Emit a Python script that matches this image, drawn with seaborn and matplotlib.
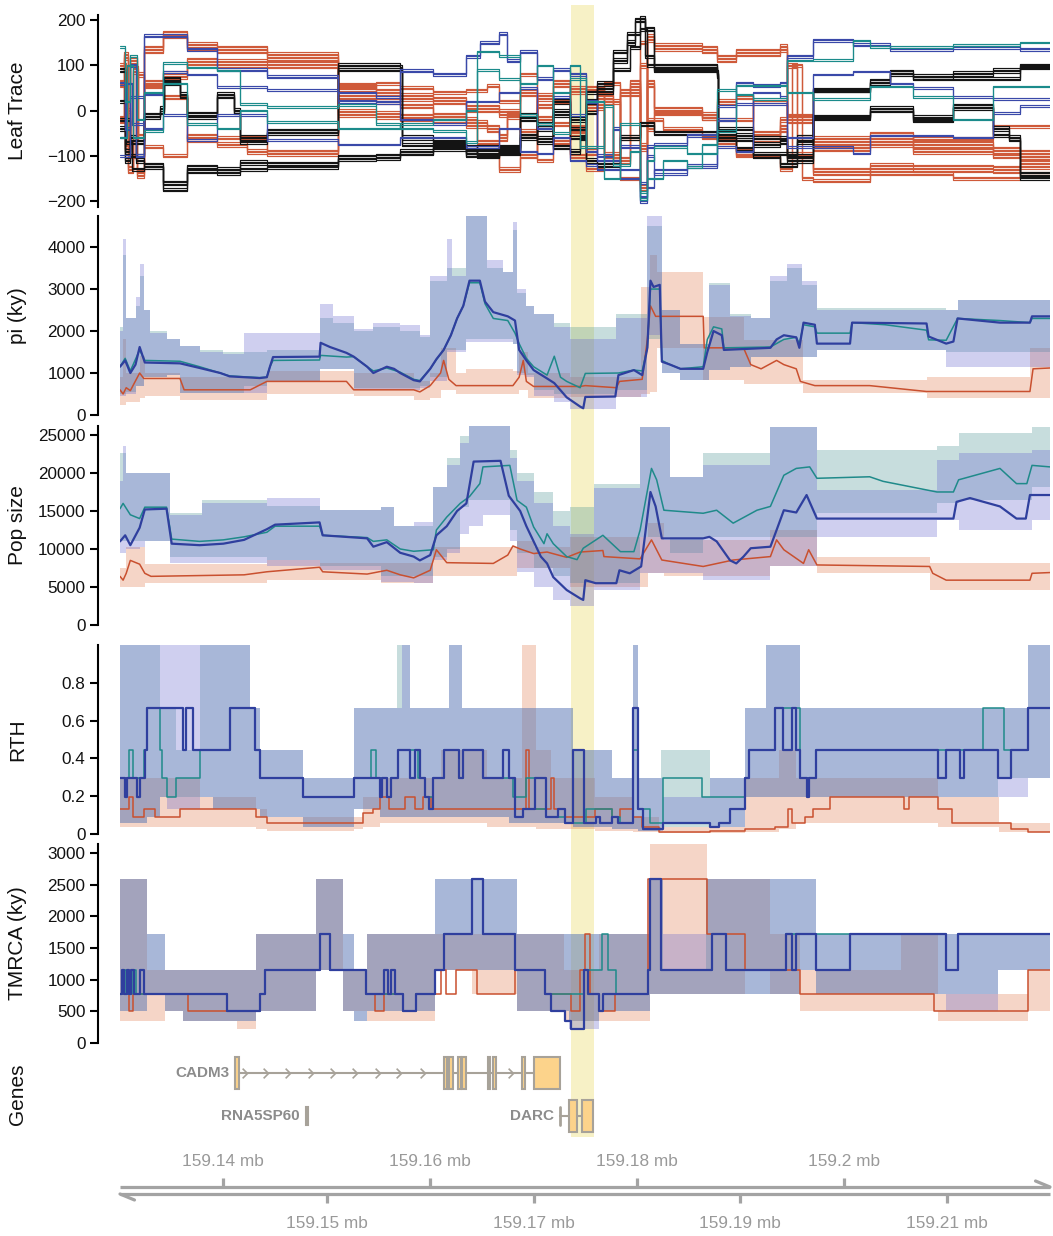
import numpy as np
import pandas as pd
import matplotlib
matplotlib.use("Agg")
import matplotlib.pyplot as plt
import matplotlib.transforms as mtrans
from matplotlib.patches import Rectangle
from matplotlib.path import Path
import seaborn as sns

# ------------------------------------------------------------------
# DATA  (positions are kb downstream of 159.13 mb)
# ------------------------------------------------------------------
X_END = 89.94
HIGHLIGHT = (43.6, 45.8)

LEAF_GROUP = ['orange', 'orange', 'orange', 'orange', 'orange',
              'black', 'black', 'black', 'black',
              'blue', 'blue', 'blue', 'teal', 'teal']
LEAF_N = [6, 6, 4, 3, 3, 4, 4, 3, 3, 3, 2, 2, 2, 2]
LEAF_PATHS = [
    [(0, -20), (0.4, 120), (0.8, -130), (1.3, 90), (1.7, -60), (2.3, 135), (4.2, 168), (6.45, 142), (9.35, 135),
     (14.2, 120), (21.1, 52), (24.8, 40), (27.1, 30), (30.3, 22), (33.5, 5), (36.7, -5), (38.7, 40), (40.3, -20),
     (41.9, 60), (43.5, -40), (45.1, 10), (46.8, -100), (48.4, 40), (50.3, -80), (51.0, 160), (51.6, 140),
     (56.3, 135), (57.7, 115), (59.6, 128), (63.8, 138), (64.5, -20), (67.0, -75), (72.5, -62), (76.7, -75),
     (84.4, -88), (87.0, -95)],
    [(0, 60), (0.5, -80), (1.0, 110), (1.6, -140), (2.3, 60), (4.2, 78), (6.45, 108), (9.35, 105), (14.2, 102),
     (21.1, -5), (24.8, -10), (27.1, -15), (30.3, -20), (33.5, -30), (35.5, -40), (36.7, -60), (37.4, -10),
     (38.7, -50), (40.3, 30), (41.9, -70), (43.5, 45), (45.1, -90), (46.1, 30), (47.7, -110), (49.3, 60),
     (50.3, -170), (51.0, 60), (51.6, 0), (56.3, -12), (57.7, -70), (59.6, -90), (61.2, -65), (63.8, -40),
     (64.5, -100), (67.0, -135), (72.5, -125), (76.7, -128), (84.4, -130), (87.0, -120)],
    [(0, 100), (0.6, 0), (1.0, -100), (1.5, 80), (2.3, 55), (4.2, 30), (6.45, -65), (9.35, -75), (12.3, -90),
     (14.2, -95), (21.1, 30), (24.8, 20), (27.1, 10), (30.3, -10), (33.5, -20), (34.5, -70), (36.7, -130),
     (38.7, -100), (40.3, 10), (41.9, -30), (43.5, -100), (45.1, 50), (46.8, 20), (48.4, -60), (50.3, 100),
     (51.0, -40), (51.6, -5), (56.3, -15), (57.7, 20), (59.6, 30), (61.2, -50), (63.8, -20), (64.5, 100),
     (65.5, -60), (67.0, -85), (72.5, -75), (76.7, -90), (84.4, -100), (87.0, -105)],
    [(2.3, -80), (4.2, -100), (6.45, -55), (9.35, -60), (14.2, -90), (21.1, 55), (24.8, 60), (27.1, 50),
     (30.3, 40), (33.5, 45), (35.5, 55), (36.7, 20), (38.7, 80), (40.3, -110), (41.9, 20), (43.5, -50),
     (45.1, -130), (46.8, 60), (48.4, -150), (50.3, 150), (51.0, -20), (52.5, -40), (56.3, -60), (59.6, -100),
     (63.8, -130), (65.0, 100), (66.0, -150), (67.0, -155), (72.5, -140), (80.6, -150), (87.0, -138)],
    [(57.7, -20), (61.2, 20), (64.5, -10), (67.0, -60), (72.5, -50), (76.7, -62), (84.4, -35)],
    [(0, 90), (0.5, -90), (1.0, -60), (1.5, -110), (2.3, -120), (4.2, -160), (6.45, -125), (9.35, -130),
     (11.6, -115), (14.2, -118), (21.1, -103), (24.8, -100), (27.1, -90), (30.3, -75), (33.5, -95), (34.5, -80),
     (36.7, -85), (38.7, -60), (40.3, -30), (41.9, -80), (43.5, -90), (44.5, -60), (45.1, -110), (46.1, -120),
     (48.4, -60), (50.3, -30), (51.6, -50), (57.7, -60), (59.6, -85), (61.2, -100), (63.8, -120), (65.5, -60),
     (67.0, -15), (72.5, 5), (76.7, -15), (80.6, 10), (84.4, -40), (86.0, -60), (87.0, -140)],
    [(0, -40), (0.5, -110), (1.0, -70), (2.3, -10), (3.9, 5), (4.3, 70), (5.8, 35), (6.45, -8), (9.35, 35),
     (11.0, 0), (11.6, -60), (14.2, -45), (21.1, 100), (27.1, 95), (27.3, -60), (30.3, -70), (33.5, -80),
     (34.5, -100), (36.7, -80), (38.7, -10), (40.3, -40), (41.9, 20), (43.5, -20), (45.1, 20), (46.1, 60),
     (47.7, 110), (49.0, 150), (49.8, 200), (50.8, 180), (51.6, 95), (57.7, 85), (57.8, -50), (59.6, -55),
     (61.2, -75), (63.8, -70), (64.5, -110), (67.0, 45), (72.5, 65), (74.5, 85), (76.7, 75), (80.6, 82),
     (84.4, 88), (87.0, 98)],
    [(0, 20), (0.6, -70), (1.2, -130), (2.3, -125), (4.2, -175), (6.45, -135), (9.35, -138), (11.6, -130),
     (14.2, -125), (21.1, -108), (24.8, -105), (27.1, -95), (30.3, -85), (33.5, -100), (36.7, -90), (38.7, -55),
     (40.3, -70), (41.9, -10), (43.5, -40), (45.1, 40), (46.1, 50), (47.7, 130), (49.0, 170), (50.3, 205),
     (50.8, 120), (51.6, 88), (57.7, 80), (57.8, -65), (61.2, -95), (63.8, -95), (65.5, -70), (67.0, -15),
     (72.5, 0), (76.7, -22), (80.6, 5), (84.4, -55), (86.0, -65), (87.0, -150)],
    [(0, -20), (1.0, -100), (2.3, -15), (3.9, -5), (4.3, 60), (5.8, 30), (6.45, -15), (9.35, 30), (11.0, -5),
     (11.6, -70), (14.2, -50), (21.1, 90), (27.1, 88), (27.3, -75), (33.5, -90), (36.7, -95), (38.7, -20),
     (40.3, -60), (41.9, 0), (43.5, -60), (45.1, -5), (46.1, 40), (47.7, 90), (49.3, 140), (50.3, 180),
     (51.0, 100), (51.6, 100), (57.7, 75), (57.8, -40), (61.2, -60), (64.5, -100), (67.0, 45), (72.5, 60),
     (74.5, 80), (76.7, 70), (87.0, 95)],
    [(0, 60), (0.5, -40), (1.0, 100), (1.5, -100), (2.3, 165), (6.45, 135), (9.35, 90), (14.2, 75), (21.1, 20),
     (24.8, 18), (27.1, 88), (30.3, 80), (33.5, 120), (34.8, 150), (36.7, 170), (37.4, 110), (38.7, 130),
     (40.3, 70), (41.9, 90), (43.5, 80), (45.1, 20), (46.1, -100), (47.7, -40), (48.4, -80), (50.3, -200),
     (51.0, -80), (51.6, -75), (54.8, -55), (57.7, -20), (59.6, 60), (61.2, 55), (63.8, 60), (64.5, 120),
     (67.0, 155), (70.9, 145), (74.5, 135), (80.6, 140), (87.0, 135)],
    [(0, -60), (0.6, 60), (1.2, -30), (2.3, 35), (4.2, 85), (6.45, 80), (9.35, 52), (14.2, 45), (21.1, 40),
     (24.8, 30), (27.1, -20), (30.3, -30), (33.5, 20), (36.7, 40), (38.7, 50), (40.3, -40), (41.9, 30),
     (43.5, -10), (45.1, -90), (46.1, -110), (48.4, -130), (50.3, -190), (51.0, -100), (51.6, -140),
     (54.8, -120), (57.7, -80), (59.6, -90), (61.2, 40), (63.8, 30), (64.5, -80), (67.0, -80), (70.9, -95),
     (72.5, -55), (80.6, -60), (84.4, -5), (87.0, 10)],
    [(0, -100), (1.0, 30), (2.3, -40), (4.2, -10), (6.45, -65), (9.35, -10), (14.2, -65), (21.1, -75),
     (27.1, -60), (33.5, -80), (36.7, -40), (38.7, -90), (40.3, -95), (41.9, -60), (43.5, -110), (45.1, -120),
     (46.1, -130), (48.4, -150), (50.3, -160), (51.0, -170), (51.6, -130), (54.8, -125), (57.7, 10),
     (59.6, 15), (64.5, -60), (67.0, 80), (70.9, 86), (74.5, 60), (76.7, 50), (80.6, 30), (84.4, 25)],
    [(0, 140), (0.5, 20), (1.0, 120), (1.6, -20), (2.3, 40), (4.2, 105), (6.45, 95), (9.35, 88), (11.6, 15),
     (14.2, 8), (21.1, 12), (24.8, -30), (27.1, -40), (30.3, -45), (33.5, -70), (34.5, 130), (36.7, 120),
     (38.7, 60), (40.3, 100), (41.9, -50), (43.5, 70), (45.1, -80), (46.8, 10), (47.7, -120), (49.3, -90),
     (50.3, -195), (51.0, -150), (52.5, -110), (54.8, -125), (56.3, -75), (57.7, 45), (59.6, 35), (61.2, 25),
     (64.5, 110), (67.0, 112), (70.9, 155), (72.5, 140), (80.6, 145), (87.0, 150)],
    [(0, -60), (0.7, 100), (1.3, -60), (2.3, -45), (4.2, 60), (6.45, -30), (9.35, -40), (11.6, 0), (14.2, -25),
     (21.1, -40), (27.1, -30), (30.3, -20), (33.5, 0), (34.5, 90), (36.7, 70), (38.7, -10), (40.3, -30),
     (41.9, 40), (43.5, 100), (44.5, -80), (45.1, 20), (46.8, -150), (48.4, -30), (50.3, -180), (51.0, -110),
     (51.6, -80), (54.8, -95), (57.7, -45), (59.6, 55), (64.5, 40), (67.0, 25), (72.5, 53), (76.7, 30),
     (80.6, -20), (84.4, 53)],
]

# ---- pi (ky): mean lines ----
PI_BLUE = [(0, 1150), (0.5, 1300), (1.0, 1000), (1.5, 1200), (1.9, 1620), (2.4, 1250), (5.8, 1230), (7.7, 1120),
           (9.7, 1000), (10.6, 920), (13.5, 880), (14.2, 900), (14.5, 1150), (14.8, 1380), (19.3, 1390),
           (19.4, 1720), (20.3, 1620), (21.9, 1480), (22.6, 1390), (23.9, 1150), (24.5, 1000), (25.8, 1150),
           (26.5, 1100), (27.1, 1000), (28.4, 830), (29.0, 800), (30.0, 1100), (30.6, 1330), (31.3, 1550),
           (32.0, 1900), (32.6, 2300), (33.2, 2600), (33.8, 3200), (34.8, 3200), (35.3, 2700), (36.1, 2450),
           (37.5, 2350), (38.2, 2250), (38.6, 1550), (39.3, 1300), (40.0, 1070), (41.3, 870), (42.0, 760),
           (43.2, 420), (44.5, 200), (44.8, 160), (45.0, 430), (47.9, 440), (48.2, 950), (49.7, 1070),
           (50.5, 950), (51.0, 1600), (51.3, 3200), (51.6, 3050), (52.2, 3100), (52.4, 1270), (53.2, 1200),
           (54.2, 1100), (56.4, 1100), (56.8, 1500), (57.4, 2000), (58.2, 1900), (58.4, 1550), (62.9, 1600),
           (63.5, 1800), (64.2, 1900), (65.4, 1850), (65.7, 1600), (66.1, 2200), (67.2, 2150), (67.4, 1700),
           (70.6, 1700), (70.8, 2200), (78.0, 2180), (78.2, 1870), (79.9, 1700), (80.6, 1750), (81.0, 2300),
           (85.1, 2200), (88.0, 2200), (88.2, 2350), (89.94, 2350)]
PI_TEAL = [(0, 1150), (0.5, 1350), (1.0, 1050), (1.9, 1550), (2.4, 1300), (5.8, 1280), (7.7, 1150), (9.7, 1000),
           (10.6, 930), (13.5, 890), (14.2, 900), (14.5, 1150), (14.8, 1300), (19.3, 1310), (19.4, 1420),
           (21.9, 1380), (22.6, 1390), (23.9, 1150), (24.5, 1050), (25.8, 1120), (27.1, 1020), (28.4, 850),
           (29.0, 820), (30.0, 1100), (30.6, 1320), (31.3, 1550), (32.0, 1900), (32.6, 2300), (33.2, 2600),
           (33.8, 3150), (34.8, 3150), (35.3, 2650), (36.1, 2300), (37.5, 2250), (38.2, 1950), (38.6, 1700),
           (39.3, 1350), (40.0, 1150), (41.3, 950), (42.0, 1400), (42.6, 900), (43.2, 800), (44.5, 650),
           (45.0, 990), (48.2, 1000), (49.7, 1070), (50.5, 1050), (51.0, 1600), (51.3, 3000), (52.2, 3000),
           (52.4, 1300), (53.2, 1200), (54.2, 1100), (56.4, 1150), (56.8, 1800), (57.4, 2100), (58.2, 2050),
           (58.4, 1600), (62.9, 1620), (64.2, 1800), (65.4, 1850), (65.7, 1700), (66.1, 2150), (67.2, 2100),
           (67.4, 1950), (70.6, 1950), (70.8, 2200), (74.0, 2150), (78.0, 2020), (78.2, 1790), (79.9, 1780),
           (81.0, 2300), (85.1, 2250), (88.0, 2200), (88.2, 2300), (89.94, 2300)]
PI_ORANGE = [(0, 600), (0.3, 500), (0.6, 650), (1.0, 580), (1.9, 1000), (2.3, 870), (5.8, 870), (6.2, 600),
             (12.6, 600), (14.2, 800), (21.9, 800), (22.6, 600), (28.4, 600), (29.0, 550), (30.0, 700),
             (31.0, 1000), (31.3, 1300), (31.8, 850), (32.5, 700), (38.0, 700), (38.6, 900), (39.0, 1300),
             (39.3, 800), (40.0, 680), (44.5, 680), (45.0, 700), (48.0, 650), (48.3, 800), (50.5, 850),
             (51.0, 1800), (51.3, 2600), (51.8, 2350), (56.4, 2350), (56.5, 1600), (60.3, 1600), (61.0, 1200),
             (62.0, 1100), (63.5, 1300), (64.2, 1200), (65.4, 1100), (65.8, 800), (67.2, 700), (72.5, 700),
             (78.0, 560), (88.0, 560), (88.3, 1100), (89.94, 1120)]
# ---- pi bands: (x, low, high) ----
PI_BLUE_BAND = [(0, 450, 2000), (0.3, 450, 4200), (0.6, 500, 2300), (1.5, 700, 2800), (1.9, 700, 3600),
                (2.3, 900, 2500), (2.9, 900, 1950), (4.5, 950, 1800), (5.8, 520, 1650), (7.7, 520, 1500),
                (10.0, 520, 1450), (12.0, 520, 1950), (14.2, 800, 1950), (19.3, 1100, 2650), (20.6, 1100, 2350),
                (22.6, 600, 2050), (24.5, 600, 2200), (27.1, 600, 2150), (29.0, 650, 1900), (30.0, 800, 3300),
                (31.6, 1500, 4200), (32.1, 1500, 3300), (33.5, 1750, 4740), (35.5, 1750, 3700),
                (37.0, 1750, 3400), (38.0, 1700, 4600), (38.4, 950, 3000), (39.3, 900, 2600), (40.0, 450, 2400),
                (42.0, 300, 2100), (43.5, 150, 1800), (48.0, 440, 2300), (51.0, 1900, 4740), (52.4, 1000, 2500),
                (54.2, 830, 1700), (57.0, 1070, 3100), (59.0, 1150, 2350), (61.0, 1390, 2300), (62.9, 1390, 3300),
                (64.5, 1390, 3600), (66.0, 1390, 3200), (67.4, 1550, 2500), (79.9, 1150, 2500),
                (81.0, 1150, 2750)]
PI_TEAL_BAND = [(0, 500, 2100), (0.3, 500, 3800), (0.6, 550, 2300), (1.5, 700, 2600), (1.9, 700, 3300),
                (2.3, 900, 2500), (2.9, 900, 2000), (4.5, 950, 1800), (5.8, 520, 1650), (7.7, 520, 1550),
                (10.0, 520, 1500), (12.0, 700, 1500), (14.2, 800, 1550), (19.3, 1100, 2300), (20.6, 1100, 2200),
                (22.6, 650, 2000), (24.5, 650, 2100), (27.1, 650, 2000), (29.0, 700, 1850), (30.0, 900, 3200),
                (31.6, 1550, 3500), (33.5, 1800, 4740), (35.5, 1800, 3500), (37.0, 1800, 3400),
                (38.0, 1700, 4400), (38.4, 1000, 2900), (39.3, 950, 2600), (40.0, 600, 2400), (42.0, 500, 2200),
                (43.5, 500, 2100), (48.0, 600, 2400), (51.0, 1800, 4500), (52.4, 1000, 2500), (54.2, 830, 1700),
                (57.0, 1070, 3150), (59.0, 1150, 2400), (61.0, 1390, 2300), (62.9, 1390, 3200),
                (64.5, 1390, 3500), (66.0, 1390, 3100), (67.4, 1550, 2550), (79.9, 1500, 2500),
                (81.0, 1500, 2750)]
PI_ORANGE_BAND = [(0, 250, 900), (0.3, 250, 1800), (0.6, 300, 1000), (1.9, 400, 1400), (2.4, 450, 1000),
                  (5.8, 350, 900), (12.6, 350, 900), (14.2, 500, 1050), (22.6, 450, 1000), (28.4, 350, 800),
                  (30.0, 400, 1000), (31.0, 600, 1600), (32.5, 500, 1000), (33.5, 500, 1100), (38.0, 500, 1050),
                  (38.6, 600, 1500), (39.5, 400, 1000), (43.5, 437, 910), (50.4, 500, 3050), (51.3, 550, 3800),
                  (51.9, 1590, 3410), (56.4, 830, 2340), (60.3, 750, 1790), (66.1, 516, 830), (78.0, 400, 910),
                  (88.0, 400, 1590)]

# ---- Pop size ----
POP_BLUE = [(0, 11000), (0.5, 11800), (1.0, 10500), (1.9, 12800), (2.4, 15200), (4.5, 15300), (5.0, 10700),
            (7.7, 10500), (10.0, 10700), (12.0, 11200), (14.2, 12600), (15.0, 13200), (19.3, 13500),
            (19.6, 11800), (23.9, 11400), (24.5, 10300), (25.8, 10900), (27.1, 9500), (28.4, 9000), (29.0, 8500),
            (30.0, 9200), (30.6, 11800), (31.6, 13000), (32.6, 15000), (33.5, 16000), (34.2, 21500),
            (36.8, 21600), (37.6, 17000), (38.7, 15000), (39.3, 13000), (40.0, 11000), (40.7, 9000),
            (41.3, 8100), (41.9, 6300), (43.2, 4600), (44.5, 3500), (44.8, 3300), (45.0, 5900), (46.0, 5500),
            (48.0, 5500), (48.3, 7200), (49.3, 6800), (50.4, 7700), (50.6, 9900), (51.3, 17500), (51.8, 15600),
            (52.4, 11400), (56.4, 11400), (57.0, 11600), (57.7, 11000), (59.0, 8500), (59.6, 8100), (60.3, 9000),
            (61.0, 10100), (62.9, 10300), (63.5, 12500), (64.2, 15100), (65.4, 14800), (66.4, 17100),
            (67.4, 14000), (80.6, 14000), (80.9, 16200), (82.2, 16700), (85.1, 15600), (86.7, 14000),
            (87.6, 14000), (88.0, 17100), (89.94, 17100)]
POP_TEAL = [(0, 15300), (0.3, 16000), (1.0, 14500), (1.9, 14000), (2.4, 15500), (4.5, 15500), (5.0, 11300),
            (7.7, 11000), (10.0, 11200), (12.0, 11600), (14.2, 12200), (15.0, 13000), (19.3, 13000),
            (19.6, 11800), (23.9, 11500), (24.5, 11000), (25.8, 11200), (27.1, 10000), (28.4, 9700),
            (30.3, 9900), (30.6, 12500), (31.6, 14200), (32.9, 16000), (33.8, 16900), (34.8, 18600),
            (35.1, 20800), (37.7, 21000), (38.4, 16400), (39.3, 15500), (40.0, 12900), (41.0, 10700),
            (41.3, 12000), (41.9, 10700), (43.2, 9000), (44.2, 8600), (44.8, 10100), (46.7, 11800), (48.4, 9650),
            (49.7, 9650), (50.3, 12500), (51.4, 20600), (51.9, 19100), (52.6, 15100), (56.4, 14700),
            (57.7, 15100), (59.3, 13400), (61.6, 15100), (62.9, 15600), (64.2, 19700), (65.4, 20600),
            (66.7, 20800), (67.4, 19300), (72.5, 19500), (73.8, 18900), (79.0, 17500), (80.6, 17500),
            (81.1, 19100), (85.1, 20600), (86.7, 18600), (87.7, 18600), (88.2, 21000), (89.94, 20800)]
POP_ORANGE = [(0, 6400), (0.3, 5900), (0.6, 6800), (1.0, 8500), (1.9, 8000), (2.4, 6800), (3.0, 6400),
              (12.0, 6600), (14.2, 7000), (19.3, 7600), (19.6, 7000), (23.9, 6700), (25.8, 7200), (27.1, 6600),
              (28.4, 6200), (30.0, 7200), (30.6, 9900), (31.6, 8200), (36.1, 8100), (37.5, 9200), (38.0, 10400),
              (38.7, 10000), (40.0, 9400), (41.3, 9600), (43.2, 8900), (44.5, 9600), (46.7, 9800), (46.8, 9000),
              (50.3, 8700), (51.4, 11200), (52.4, 8550), (56.4, 7700), (59.3, 8550), (62.9, 9000), (63.5, 11200),
              (64.2, 9900), (66.1, 8100), (66.6, 9900), (67.4, 7900), (78.3, 7700), (78.6, 6800), (79.9, 5900),
              (88.0, 5900), (88.2, 6800), (89.94, 6900)]
POP_BLUE_BAND = [(0, 9500, 19000), (0.3, 9500, 23500), (0.6, 10000, 20000), (1.9, 10300, 20000),
                 (2.4, 11000, 20000), (4.8, 8100, 14500), (7.9, 8100, 16000), (14.2, 7800, 16700),
                 (19.3, 7200, 15100), (25.2, 5700, 15500), (26.5, 5700, 13000), (28.4, 5500, 13500),
                 (30.3, 8500, 18200), (31.6, 9500, 21000), (32.9, 12000, 24000), (33.8, 13000, 26200),
                 (35.1, 14500, 26200), (37.7, 11000, 22000), (38.4, 7000, 19000), (40.0, 5000, 16000),
                 (41.9, 3300, 13000), (43.5, 2500, 12000), (45.8, 4600, 18000), (50.3, 6800, 26000),
                 (53.2, 6800, 19500), (56.4, 5900, 21000), (62.9, 7700, 26000), (67.4, 11600, 17800),
                 (79.0, 13800, 21700), (81.1, 12500, 22600), (88.2, 13800, 23000)]
POP_TEAL_BAND = [(0, 11000, 22600), (0.6, 11000, 20000), (4.8, 9000, 14700), (7.9, 9000, 16400),
                 (14.2, 8500, 15600), (19.3, 7700, 15100), (25.2, 6500, 15500), (26.5, 6500, 13000),
                 (30.3, 9000, 18200), (31.6, 10000, 22000), (32.9, 15500, 24800), (33.8, 16500, 26200),
                 (37.7, 12500, 23000), (38.4, 9500, 20000), (40.0, 7500, 17500), (41.9, 6500, 15000),
                 (43.5, 5500, 15500), (45.8, 5500, 18500), (50.3, 11600, 26000), (53.2, 9500, 19500),
                 (56.4, 11600, 22600), (62.9, 11600, 26000), (67.4, 14700, 23000), (79.0, 16000, 23500),
                 (81.1, 16400, 25200), (88.2, 18200, 26000)]
POP_ORANGE_BAND = [(0, 5000, 7500), (0.6, 5000, 10300), (2.4, 5500, 8000), (14.2, 5900, 8500),
                   (19.3, 5900, 8100), (25.2, 5500, 8100), (30.3, 6500, 10300), (38.4, 7500, 11000),
                   (40.0, 7500, 10300), (43.5, 5000, 11600), (51.1, 6800, 13400), (52.6, 6400, 11200),
                   (62.9, 7700, 12500), (67.4, 6800, 9000), (78.3, 4600, 8100)]

# ---- RTH (step values) ----
RTH_BLUE = [(0, 0.296), (0.5, 0.198), (0.7, 0.296), (1.6, 0.198), (1.9, 0.296), (2.4, 0.444), (2.6, 0.667),
            (6.1, 0.444), (6.4, 0.667), (7.1, 0.444), (10.6, 0.667), (13.1, 0.444), (13.5, 0.296), (17.7, 0.198),
            (22.6, 0.296), (25.1, 0.198), (25.3, 0.296), (25.8, 0.198), (26.2, 0.296), (26.9, 0.444),
            (28.0, 0.296), (28.5, 0.444), (29.0, 0.296), (29.5, 0.198), (29.9, 0.132), (30.3, 0.296),
            (31.3, 0.444), (32.8, 0.296), (33.2, 0.444), (35.1, 0.296), (37.0, 0.444), (37.6, 0.296),
            (38.2, 0.088), (39.0, 0.132), (40.1, 0.296), (41.2, 0.088), (42.4, 0.132), (43.0, 0.059),
            (43.8, 0.444), (44.9, 0.059), (46.0, 0.088), (46.4, 0.059), (47.6, 0.088), (48.2, 0.059),
            (49.6, 0.667), (50.1, 0.132), (50.6, 0.026), (52.5, 0.059), (57.1, 0.039), (57.9, 0.059),
            (59.0, 0.132), (60.4, 0.296), (60.8, 0.444), (63.3, 0.667), (64.1, 0.444), (65.0, 0.667),
            (65.4, 0.444), (65.8, 0.296), (66.4, 0.198), (66.6, 0.296), (67.3, 0.444), (79.1, 0.296),
            (79.9, 0.444), (81.2, 0.296), (81.6, 0.444), (84.9, 0.296), (86.2, 0.444), (87.8, 0.667)]
RTH_TEAL = [(0, 0.296), (0.9, 0.444), (1.3, 0.296), (2.3, 0.444), (2.6, 0.667), (3.9, 0.444), (4.1, 0.296),
            (4.5, 0.198), (5.4, 0.296), (7.7, 0.444), (10.6, 0.667), (13.1, 0.444), (13.5, 0.296), (17.7, 0.198),
            (22.6, 0.296), (24.3, 0.444), (24.8, 0.296), (25.8, 0.198), (26.2, 0.296), (26.9, 0.444),
            (28.8, 0.296), (29.5, 0.198), (30.3, 0.296), (31.3, 0.444), (32.8, 0.296), (33.2, 0.444),
            (35.1, 0.296), (38.0, 0.198), (39.3, 0.296), (40.1, 0.132), (41.2, 0.088), (43.0, 0.059),
            (45.1, 0.132), (47.6, 0.088), (48.4, 0.059), (49.6, 0.444), (50.1, 0.132), (51.3, 0.059),
            (52.5, 0.296), (56.3, 0.198), (60.4, 0.296), (60.8, 0.444), (63.3, 0.667), (65.8, 0.296),
            (67.3, 0.444), (83.5, 0.667), (85.5, 0.444), (87.8, 0.667)]
RTH_ORANGE = [(0, 0.132), (0.9, 0.198), (1.3, 0.088), (2.3, 0.132), (3.4, 0.088), (5.8, 0.132), (13.2, 0.088),
              (14.2, 0.059), (23.5, 0.11), (24.5, 0.132), (25.1, 0.198), (26.0, 0.132), (27.6, 0.198),
              (28.5, 0.132), (29.3, 0.198), (30.1, 0.132), (39.3, 0.444), (39.6, 0.132), (41.7, 0.296),
              (42.0, 0.132), (43.0, 0.088), (45.9, 0.132), (47.6, 0.088), (48.4, 0.132), (49.6, 0.088),
              (50.5, 0.039), (52.1, 0.01), (57.1, 0.017), (60.4, 0.026), (63.3, 0.039), (64.6, 0.132),
              (65.0, 0.059), (66.2, 0.088), (67.0, 0.132), (68.7, 0.198), (75.8, 0.132), (76.3, 0.198),
              (79.1, 0.132), (80.5, 0.059), (86.2, 0.026), (87.8, 0.01)]
RTH_BLUE_BAND = [(0, 0.059, 1.0), (2.6, 0.088, 1.0), (3.9, 0.198, 1.0), (4.5, 0.132, 1.0), (7.7, 0.198, 1.0),
                 (9.0, 0.132, 1.0), (12.6, 0.132, 0.667), (13.5, 0.088, 0.444), (17.7, 0.039, 0.296),
                 (22.6, 0.132, 0.667), (25.1, 0.088, 0.667), (27.3, 0.088, 1.0), (28.0, 0.088, 0.667),
                 (31.8, 0.088, 1.0), (33.1, 0.088, 0.667), (37.6, 0.059, 0.667), (43.8, 0.039, 0.444),
                 (47.6, 0.026, 0.296), (49.6, 0.026, 1.0), (50.1, 0.017, 0.296), (52.5, 0.059, 0.198),
                 (57.1, 0.039, 0.296), (60.4, 0.198, 0.667), (62.5, 0.198, 1.0), (65.8, 0.198, 0.667),
                 (87.8, 0.296, 1.0)]
RTH_TEAL_BAND = [(0, 0.059, 1.0), (2.6, 0.088, 1.0), (3.9, 0.198, 0.667), (5.4, 0.198, 0.444),
                 (7.7, 0.198, 1.0), (9.0, 0.132, 1.0), (12.6, 0.132, 0.667), (13.5, 0.088, 0.444),
                 (17.7, 0.039, 0.296), (22.6, 0.132, 0.667), (25.1, 0.088, 0.667), (26.8, 0.088, 1.0),
                 (28.0, 0.088, 0.667), (31.8, 0.088, 1.0), (33.1, 0.088, 0.667), (37.6, 0.059, 0.667),
                 (43.8, 0.039, 0.444), (47.6, 0.026, 0.296), (49.6, 0.026, 1.0), (50.1, 0.017, 0.296),
                 (52.3, 0.039, 0.444), (57.1, 0.039, 0.296), (60.4, 0.198, 0.667), (62.5, 0.198, 1.0),
                 (65.8, 0.198, 0.667), (84.9, 0.296, 0.667), (87.8, 0.296, 1.0)]
RTH_ORANGE_BAND = [(0, 0.039, 0.296), (2.3, 0.039, 0.296), (7.7, 0.039, 0.198), (13.2, 0.026, 0.132),
                   (14.2, 0.017, 0.088), (22.6, 0.026, 0.088), (23.5, 0.039, 0.198), (25.1, 0.059, 0.296),
                   (31.0, 0.059, 0.444), (35.5, 0.039, 0.296), (38.9, 0.039, 1.0), (40.2, 0.026, 0.444),
                   (41.7, 0.026, 0.296), (45.9, 0.017, 0.198), (49.6, 0.01, 0.088), (52.1, 0.005, 0.039),
                   (60.4, 0.01, 0.296), (63.7, 0.026, 0.444), (65.4, 0.059, 0.296), (79.1, 0.039, 0.198),
                   (85.0, 0.01, 0.059)]

# ---- TMRCA (ky) ----
TM_BLUE = [(0, 766), (0.2, 1148), (0.4, 766), (0.7, 1148), (0.9, 766), (1.1, 1148), (1.4, 766), (1.9, 1148),
           (2.3, 766), (10.3, 510), (13.5, 766), (14.0, 1148), (19.3, 1722), (20.3, 1148), (23.8, 766),
           (25.5, 1148), (25.9, 766), (26.2, 1148), (26.6, 766), (27.4, 510), (28.6, 766), (30.5, 1148),
           (31.3, 1722), (34.0, 2583), (35.1, 1722), (38.2, 1148), (41.1, 766), (41.7, 510), (43.0, 340),
           (43.6, 227), (44.9, 1148), (45.3, 766), (46.3, 510), (46.7, 766), (51.1, 1148), (51.3, 2583),
           (52.3, 1148), (57.3, 1722), (58.6, 1148), (64.4, 1722), (65.0, 1148), (65.4, 1722), (67.3, 1148),
           (70.6, 1722), (79.9, 1148), (81.0, 1722)]
TM_TEAL = [(0, 766), (0.3, 1148), (0.6, 766), (1.2, 1148), (1.5, 766), (2.3, 766), (10.3, 510), (13.5, 766),
           (14.0, 1148), (19.3, 1722), (20.3, 1148), (23.8, 766), (27.4, 510), (28.6, 766), (30.5, 1148),
           (31.3, 1722), (34.0, 2583), (35.1, 1722), (38.2, 1148), (41.1, 766), (43.0, 766), (44.9, 1148),
           (46.6, 1722), (47.2, 1148), (48.0, 766), (51.1, 1148), (51.3, 2583), (52.3, 1148), (57.3, 1722),
           (58.6, 1148), (64.4, 1722), (67.3, 1722), (70.6, 1722), (79.9, 1148), (81.0, 1722)]
TM_ORANGE = [(0, 766), (0.9, 510), (1.3, 766), (6.5, 766), (6.6, 510), (10.3, 510), (13.5, 766), (14.0, 1148),
             (19.3, 1722), (20.3, 1148), (23.8, 766), (24.7, 510), (25.5, 766), (27.4, 510), (28.6, 766),
             (31.0, 1148), (31.5, 766), (32.5, 1148), (34.5, 766), (38.2, 1148), (41.1, 766), (43.6, 510),
             (44.5, 1148), (45.0, 1722), (45.5, 766), (46.3, 510), (47.9, 766), (51.1, 2583), (56.8, 1722),
             (60.4, 1148), (65.8, 766), (78.7, 510), (87.8, 1148)]
TM_BLUE_BAND = [(0, 510, 2583), (2.6, 766, 1722), (4.4, 510, 1148), (6.1, 340, 1148), (13.2, 510, 1722),
                (19.0, 1148, 2583), (21.6, 510, 1722), (22.6, 340, 1148), (23.9, 510, 1722), (30.5, 1148, 2583),
                (38.4, 510, 1722), (43.4, 227, 1722), (46.3, 510, 1722), (51.3, 766, 2583), (52.5, 766, 1722),
                (56.7, 766, 2583), (65.8, 1148, 2583), (67.3, 766, 1722), (79.9, 510, 1722),
                (84.9, 1148, 1722)]
TM_TEAL_BAND = [(0, 510, 2583), (2.6, 766, 1722), (4.4, 510, 1148), (6.1, 340, 1148), (13.2, 510, 1722),
                (19.0, 1148, 2583), (21.6, 510, 1722), (22.6, 340, 1148), (23.9, 510, 1722), (30.5, 1148, 2583),
                (38.4, 510, 1722), (43.4, 340, 1722), (46.3, 510, 1722), (51.3, 766, 2583), (52.5, 766, 1148),
                (56.7, 766, 2583), (65.8, 1148, 2583), (67.3, 766, 1722), (79.9, 766, 1722),
                (84.9, 1148, 1722)]
TM_ORANGE_BAND = [(0, 340, 2583), (2.6, 340, 1148), (4.4, 510, 1148), (6.1, 340, 1148), (11.3, 227, 1148),
                  (13.2, 510, 1722), (19.0, 1148, 2583), (21.6, 510, 1148), (23.9, 340, 1722),
                  (30.5, 1148, 1722), (34.0, 766, 1722), (38.4, 510, 1722), (42.9, 340, 1148),
                  (46.3, 340, 1722), (51.3, 766, 3142), (56.8, 766, 2583), (60.4, 1148, 2583),
                  (62.9, 766, 1722), (65.8, 510, 1148), (75.5, 510, 1722), (79.1, 340, 766), (87.8, 510, 1148)]

# ---- Genes ----
GENE_NAMES = ['CADM3', 'RNA5SP60', 'DARC']
GENE_ROW = [1, 0, 0]
GENE_SPAN = [(11.1, 42.55), (17.95, 18.2), (42.55, 45.7)]
GENE_EXONS = [
    [(11.1, 11.5), (31.3, 31.6), (31.8, 32.2), (32.7, 33.0), (33.1, 33.5), (35.6, 35.8), (36.1, 36.4),
     (38.9, 39.2), (40.0, 42.55)],
    [(17.95, 18.2)],
    [(43.45, 44.2), (44.65, 45.7)],
]
CADM3_CHEVRONS = [12.25, 14.35, 16.4, 18.7, 20.8, 22.9, 25.1, 27.2, 29.5, 38.0]

AXIS_TICKS_KB = [10, 20, 30, 40, 50, 60, 70, 80]
AXIS_LABELS = ['159.14 mb', '159.15 mb', '159.16 mb', '159.17 mb',
               '159.18 mb', '159.19 mb', '159.2 mb', '159.21 mb']

# ------------------------------------------------------------------
# STYLE
# ------------------------------------------------------------------
sns.set_theme(style='ticks')
plt.rcParams['font.family'] = ['Liberation Sans', 'DejaVu Sans']
plt.rcParams['axes.unicode_minus'] = True

LEAF_COLORS = {'orange': '#cf5a3a', 'black': '#141414', 'blue': '#3a49a9', 'teal': '#1b8b8b'}
LINE_COLORS = {'orange': '#c9502f', 'teal': '#1f8a8a', 'blue': '#2f3f9e'}
BAND_COLORS = {'orange': '#e17648', 'teal': '#479191', 'blue': '#6262cd'}
BAND_ALPHA = 0.3
GRAY = '#a3a3a3'
W, H = 1053, 1236

fig = plt.figure(figsize=(W / 100, H / 100), dpi=100)
fig.patch.set_facecolor('white')


def add_ax(top, bot):
    ax = fig.add_axes([120 / W, 1 - bot / H, 930 / W, (bot - top) / H])
    ax.set_facecolor('none')
    ax.set_xlim(0, X_END)
    return ax


def style_ax(ax, label, ylim, ticks, ticklabels=None):
    ax.set_ylim(*ylim)
    sns.despine(ax=ax, bottom=True, offset={'left': 15.8})
    ax.spines['left'].set_linewidth(1.5)
    ax.spines['left'].set_color('black')
    ax.set_xticks([])
    ax.set_xlabel('')
    ax.set_yticks(ticks)
    if ticklabels is not None:
        ax.set_yticklabels(ticklabels)
    ax.tick_params(axis='y', length=6, width=1.5, color='black', labelsize=12.3, pad=3,
                   labelcolor='#111111')
    ax.set_ylabel(label, fontsize=15, color='#111111')
    ax.yaxis.set_label_coords(-0.1, 0.5)


def sline(ax, pts, color, lw, steps=False, transform=None, z=3):
    x = [p[0] for p in pts]
    y = [p[1] for p in pts]
    if steps and x[-1] < X_END:
        x.append(X_END)
        y.append(y[-1])
    df = pd.DataFrame({'x': x, 'y': y})
    kw = {}
    if steps:
        kw['drawstyle'] = 'steps-post'
    if transform is not None:
        kw['transform'] = transform
    sns.lineplot(data=df, x='x', y='y', ax=ax, color=color, lw=lw, estimator=None,
                 sort=False, legend=False, zorder=z, **kw)


def band(ax, rows, key):
    x = [r[0] for r in rows] + [X_END]
    lo = [r[1] for r in rows] + [rows[-1][1]]
    hi = [r[2] for r in rows] + [rows[-1][2]]
    ax.fill_between(x, lo, hi, step='post', color=BAND_COLORS[key], alpha=BAND_ALPHA, lw=0, zorder=1)


# ---------------- Leaf trace ----------------
ax_leaf = add_ax(15, 207)
for grp, n, pts in zip(LEAF_GROUP, LEAF_N, LEAF_PATHS):
    for j in range(n):
        off = (j - (n - 1) / 2) * 1.5
        tr = mtrans.offset_copy(ax_leaf.transData, fig=fig, x=0, y=off, units='dots')
        sline(ax_leaf, pts, LEAF_COLORS[grp], 0.85, steps=True, transform=tr)
style_ax(ax_leaf, 'Leaf Trace', (-213, 211), [-200, -100, 0, 100, 200])

# ---------------- pi / pop / RTH / TMRCA ----------------
panels = [
    ((216, 415), 'pi (ky)', (0, 4740), [0, 1000, 2000, 3000, 4000], None, False,
     (PI_ORANGE_BAND, PI_TEAL_BAND, PI_BLUE_BAND), (PI_ORANGE, PI_TEAL, PI_BLUE)),
    ((426, 625), 'Pop size', (0, 26180), [0, 5000, 10000, 15000, 20000, 25000], None, False,
     (POP_ORANGE_BAND, POP_TEAL_BAND, POP_BLUE_BAND), (POP_ORANGE, POP_TEAL, POP_BLUE)),
    ((645, 834), 'RTH', (0, 1.0), [0, 0.2, 0.4, 0.6, 0.8], ['0', '0.2', '0.4', '0.6', '0.8'], True,
     (RTH_ORANGE_BAND, RTH_TEAL_BAND, RTH_BLUE_BAND), (RTH_ORANGE, RTH_TEAL, RTH_BLUE)),
    ((844, 1043), 'TMRCA (ky)', (0, 3142), [0, 500, 1000, 1500, 2000, 2500, 3000], None, True,
     (TM_ORANGE_BAND, TM_TEAL_BAND, TM_BLUE_BAND), (TM_ORANGE, TM_TEAL, TM_BLUE)),
]
keys = ['orange', 'teal', 'blue']
widths = [1.1, 1.1, 1.6]
for (top, bot), lab, ylim, ticks, tlabels, steps, bands, lines in panels:
    ax = add_ax(top, bot)
    for k, b in zip(keys, bands):
        band(ax, b, k)
    for k, l, lw in zip(keys, lines, widths):
        sline(ax, l, LINE_COLORS[k], lw, steps=steps)
    style_ax(ax, lab, ylim, ticks, tlabels)

# ---------------- Genes ----------------
ax_g = add_ax(1048, 1140)
ax_g.set_ylim(-0.56, 1.58)
ax_g.set_xticks([])
ax_g.set_yticks([])
for s in ax_g.spines.values():
    s.set_visible(False)
ax_g.set_ylabel('Genes', fontsize=15, color='#111111')
ax_g.yaxis.set_label_coords(-0.1, 0.5)
EXON_FILL, EXON_EDGE = '#fcd38b', '#a7a299'
chev = Path([(-1, 1), (0, 0), (-1, -1)], [Path.MOVETO, Path.LINETO, Path.LINETO])
for name, row, (s, e), exons in zip(GENE_NAMES, GENE_ROW, GENE_SPAN, GENE_EXONS):
    if name == 'CADM3':
        ax_g.plot([s, e], [row, row], color=EXON_EDGE, lw=1.5, zorder=2)
        ax_g.plot(CADM3_CHEVRONS, [row] * len(CADM3_CHEVRONS), ls='none', marker=chev, ms=7,
                  mew=1.2, mec=EXON_EDGE, mfc='none', zorder=2)
        h = 0.74
    elif name == 'DARC':
        ax_g.plot([s, exons[-1][1]], [row, row], color=EXON_EDGE, lw=1.5, zorder=2)
        ax_g.plot([s, s], [row - 0.2, row + 0.2], color=EXON_EDGE, lw=2, zorder=2)
        h = 0.74
    else:
        h = 0.4
    for (a, b) in exons:
        ax_g.add_patch(Rectangle((a, row - h / 2), b - a, h, facecolor=EXON_FILL, edgecolor=EXON_EDGE,
                                 lw=1.5, zorder=3))
    ax_g.annotate(name, (s, row), xytext=(-4, 0), textcoords='offset points', ha='right', va='center',
                  fontsize=11, fontweight='bold', color='#8c8c8c')

# ---------------- Bottom genomic axis ----------------
ax_x = fig.add_axes([120 / W, 0, 930 / W, 96 / H])
ax_x.set_xlim(0, X_END)
ax_x.set_ylim(1236, 1140)
ax_x.axis('off')
for yy in (1187, 1194):
    ax_x.plot([0, X_END], [yy, yy], color=GRAY, lw=2.3, solid_capstyle='butt', clip_on=False)
ax_x.plot([X_END, X_END - 1.4], [1187, 1181], color=GRAY, lw=2.3, clip_on=False)
ax_x.plot([0, 1.4], [1194, 1200], color=GRAY, lw=2.3, clip_on=False)
for i, (t, lab) in enumerate(zip(AXIS_TICKS_KB, AXIS_LABELS)):
    if i % 2 == 0:
        ax_x.plot([t, t], [1178, 1187], color=GRAY, lw=2.3, solid_capstyle='butt')
        ax_x.text(t, 1161, lab, ha='center', va='center', fontsize=12.4, color='#999999')
    else:
        ax_x.plot([t, t], [1194, 1203], color=GRAY, lw=2.3, solid_capstyle='butt')
        ax_x.text(t, 1224, lab, ha='center', va='center', fontsize=12.4, color='#999999')

# ---------------- highlighted region ----------------
blend = mtrans.blended_transform_factory(ax_leaf.transData, fig.transFigure)
fig.add_artist(Rectangle((HIGHLIGHT[0], 1 - 1137 / H), HIGHLIGHT[1] - HIGHLIGHT[0], (1137 - 5) / H,
                         transform=blend, facecolor='#f7f1c6', edgecolor='none', zorder=-1))

fig.savefig('out.png', dpi=100, facecolor='white')
